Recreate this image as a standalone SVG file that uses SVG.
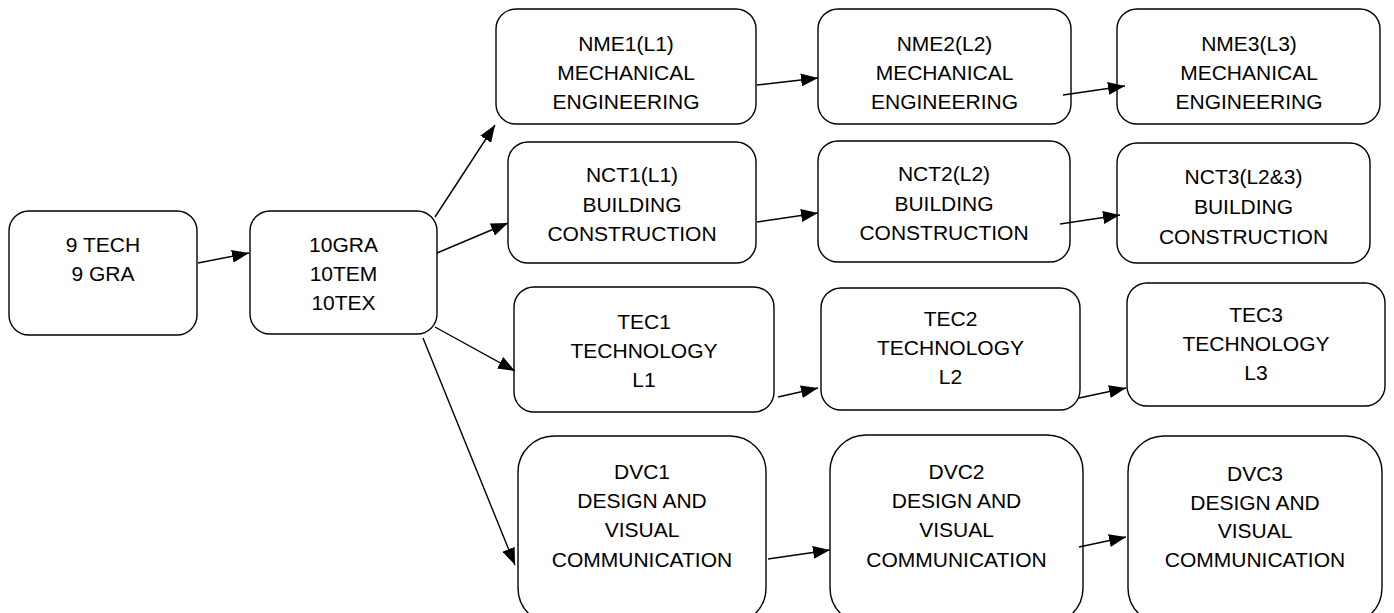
<svg xmlns="http://www.w3.org/2000/svg" width="1394" height="613" viewBox="0 0 1394 613">
<style>
.box{fill:#fff;stroke:#000;stroke-width:1.4}
.t{font-family:"Liberation Sans",Arial,sans-serif;font-size:21px;fill:#000;text-anchor:middle}
.c{stroke:#000;stroke-width:1.4;fill:none;marker-end:url(#ah)}
</style>
<defs>
<marker id="ah" markerUnits="userSpaceOnUse" markerWidth="17" markerHeight="13" refX="17" refY="6.5" orient="auto">
<path d="M0,0 L17,6.5 L0,13 z" fill="#000"/>
</marker>
</defs>
<rect width="1394" height="613" fill="#fff"/>
<g id="n9">
<rect class="box" x="9" y="211" width="188" height="124" rx="20"/>
<text class="t" x="103" y="251.5">9 TECH</text>
<text class="t" x="103" y="280.5">9 GRA</text>
</g>
<g id="n10">
<rect class="box" x="250" y="211" width="187" height="123" rx="20"/>
<text class="t" x="343.5" y="251.5">10GRA</text>
<text class="t" x="343.5" y="280.5">10TEM</text>
<text class="t" x="343.5" y="309.5">10TEX</text>
</g>
<g id="nme1">
<rect class="box" x="496" y="9" width="260" height="115" rx="20"/>
<text class="t" x="626" y="50.5">NME1(L1)</text>
<text class="t" x="626" y="79.5">MECHANICAL</text>
<text class="t" x="626" y="108.5">ENGINEERING</text>
</g>
<g id="nme2">
<rect class="box" x="818" y="9" width="253" height="115" rx="20"/>
<text class="t" x="944.5" y="50.5">NME2(L2)</text>
<text class="t" x="944.5" y="79.5">MECHANICAL</text>
<text class="t" x="944.5" y="108.5">ENGINEERING</text>
</g>
<g id="nme3">
<rect class="box" x="1117" y="9" width="263" height="115" rx="20"/>
<text class="t" x="1249" y="50.5">NME3(L3)</text>
<text class="t" x="1249" y="79.5">MECHANICAL</text>
<text class="t" x="1249" y="108.5">ENGINEERING</text>
</g>
<g id="nct1">
<rect class="box" x="508" y="142" width="248" height="121" rx="20"/>
<text class="t" x="632" y="182">NCT1(L1)</text>
<text class="t" x="632" y="211.5">BUILDING</text>
<text class="t" x="632" y="241">CONSTRUCTION</text>
</g>
<g id="nct2">
<rect class="box" x="818" y="141" width="252" height="121" rx="20"/>
<text class="t" x="944" y="181">NCT2(L2)</text>
<text class="t" x="944" y="210.5">BUILDING</text>
<text class="t" x="944" y="240">CONSTRUCTION</text>
</g>
<g id="nct3">
<rect class="box" x="1117" y="143" width="253" height="120" rx="20"/>
<text class="t" x="1243.5" y="183.5">NCT3(L2&amp;3)</text>
<text class="t" x="1243.5" y="213.5">BUILDING</text>
<text class="t" x="1243.5" y="243.5">CONSTRUCTION</text>
</g>
<g id="tec1">
<rect class="box" x="514" y="287" width="260" height="125" rx="20"/>
<text class="t" x="644" y="328.5">TEC1</text>
<text class="t" x="644" y="358">TECHNOLOGY</text>
<text class="t" x="644" y="387">L1</text>
</g>
<g id="tec2">
<rect class="box" x="821" y="288" width="259" height="122" rx="20"/>
<text class="t" x="950.5" y="325.5">TEC2</text>
<text class="t" x="950.5" y="354.5">TECHNOLOGY</text>
<text class="t" x="950.5" y="383.5">L2</text>
</g>
<g id="tec3">
<rect class="box" x="1127" y="283" width="258" height="123" rx="20"/>
<text class="t" x="1256" y="321.5">TEC3</text>
<text class="t" x="1256" y="350.5">TECHNOLOGY</text>
<text class="t" x="1256" y="379.5">L3</text>
</g>
<g id="dvc1">
<rect class="box" x="518" y="436" width="248" height="188" rx="36"/>
<text class="t" x="642" y="478.5">DVC1</text>
<text class="t" x="642" y="507.5">DESIGN AND</text>
<text class="t" x="642" y="537">VISUAL</text>
<text class="t" x="642" y="566.5">COMMUNICATION</text>
</g>
<g id="dvc2">
<rect class="box" x="830" y="435" width="253" height="189" rx="36"/>
<text class="t" x="956.5" y="478.5">DVC2</text>
<text class="t" x="956.5" y="507.5">DESIGN AND</text>
<text class="t" x="956.5" y="537">VISUAL</text>
<text class="t" x="956.5" y="566.5">COMMUNICATION</text>
</g>
<g id="dvc3">
<rect class="box" x="1128" y="436" width="254" height="188" rx="36"/>
<text class="t" x="1255" y="480.5">DVC3</text>
<text class="t" x="1255" y="509.5">DESIGN AND</text>
<text class="t" x="1255" y="538">VISUAL</text>
<text class="t" x="1255" y="567">COMMUNICATION</text>
</g>
<g id="connectors">
<line class="c" x1="198" y1="263" x2="249" y2="253"/>
<line class="c" x1="435" y1="217" x2="495" y2="125"/>
<line class="c" x1="437" y1="253" x2="508" y2="223"/>
<line class="c" x1="435" y1="327" x2="515" y2="371"/>
<line class="c" x1="423" y1="338" x2="515" y2="565"/>
<line class="c" x1="757" y1="85" x2="818" y2="78"/>
<line class="c" x1="1063" y1="95" x2="1125" y2="86"/>
<line class="c" x1="757" y1="222" x2="818" y2="213"/>
<line class="c" x1="1060" y1="224" x2="1120" y2="215"/>
<line class="c" x1="778" y1="397" x2="818" y2="388"/>
<line class="c" x1="1079" y1="398" x2="1126" y2="388"/>
<line class="c" x1="768" y1="559" x2="830" y2="550"/>
<line class="c" x1="1079" y1="547" x2="1126" y2="537"/>
</g>
</svg>
